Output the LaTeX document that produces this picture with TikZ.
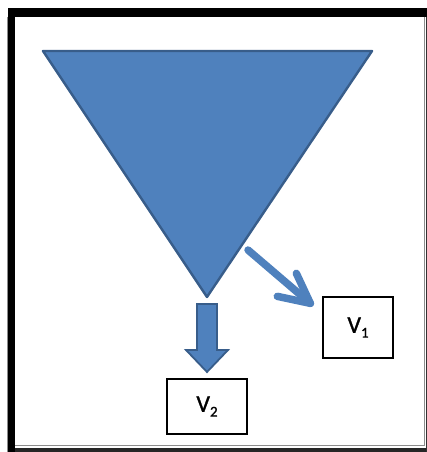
\documentclass[tikz,border=0pt]{standalone}
\usepackage{fontspec}
\setmainfont{Carlito}
\newfontfamily\labelfont[FakeBold=1.2]{Carlito}
\usetikzlibrary{arrows.meta,calc}
\definecolor{triblue}{HTML}{4F81BD}
\definecolor{triedge}{HTML}{385D8A}
\newcommand{\vsub}[1]{V\raisebox{-0.2em}{\fontsize{15}{17}\selectfont #1}}
\begin{document}
\begin{tikzpicture}[x=1pt,y=-1pt,
  vbox/.style={draw=black,line width=1.3pt,minimum width=#1,inner sep=0pt,font=\labelfont\fontsize{24}{28}\selectfont,text=black},
  blockarrow/.style={fill=triblue,draw=triedge,line width=1.8pt,line join=miter},
  thinarrow/.style={draw=triblue,line width=7.5pt,line cap=round,line join=round}]
\useasboundingbox (0,0) rectangle (427,452);
% frame
\fill[white] (0,0) rectangle (427,452);
\fill[black] (8,8) rectangle (427,17);
\fill[black] (8,8) rectangle (15,452);
\fill[black!85] (15,448) rectangle (427,452);
\draw[black!45,line width=1pt] (15,445) -- (424.5,445);
\draw[black!45,line width=1pt] (424.5,17) -- (424.5,445);
\fill[black!80] (425.5,17) rectangle (427,452);
\draw[black!45,line width=0.8pt] (7,17) -- (7,452);
% triangle
\coordinate (tl) at (43,51);
\coordinate (tr) at (372,51);
\coordinate (apex) at (207,297);
\filldraw[fill=triblue,draw=triedge,line width=2.4pt,line join=round] (tl) -- (tr) -- (apex) -- cycle;
% boxes
\node[vbox=80pt,minimum height=55pt] (v2) at (207,406.5) {\vsub{2}};
\node[vbox=70pt,minimum height=61pt] (v1) at (358,327.5) {\vsub{1}};
% block arrow down to V2
\filldraw[blockarrow] (197,304) -- (217,304) -- (217,350) -- (228,350) -- (207,372) -- (186,350) -- (197,350) -- cycle;
% arrow to V1
\coordinate (s1) at (248,250);
\coordinate (e1) at ($(v1.north west)+(-12,7)$);
\draw[thinarrow] (s1) -- (e1);
\draw[thinarrow] ($(e1)+(-14,-30)$) -- (e1) -- ($(e1)+(-33,-7)$);
\end{tikzpicture}
\end{document}
